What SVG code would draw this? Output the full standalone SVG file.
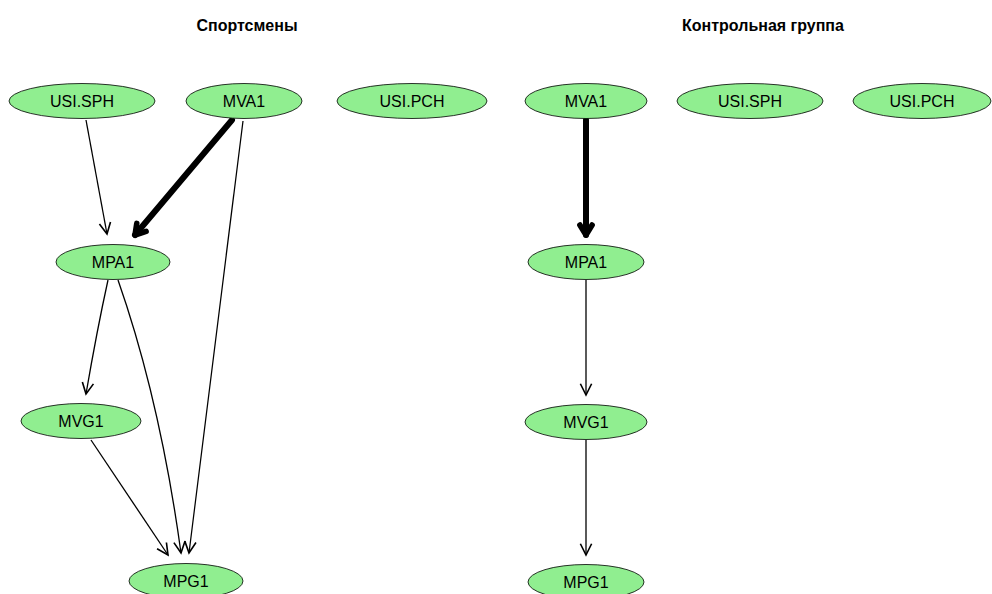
<svg xmlns="http://www.w3.org/2000/svg" width="992" height="594" viewBox="0 0 992 594">
<style>
.node ellipse{fill:#90EE90;stroke:#000;stroke-width:0.8}
.node text{font-family:"Liberation Sans",Arial,sans-serif;font-size:16px;text-anchor:middle;dominant-baseline:central;fill:#000}
.title{font-family:"Liberation Sans",Arial,sans-serif;font-size:16px;font-weight:bold;text-anchor:middle;fill:#000}
.e{fill:none;stroke:#000;stroke-width:1.3}
.t{fill:none;stroke:#000;stroke-width:6;stroke-linecap:round}
</style>
<defs>
<marker id="a" markerUnits="userSpaceOnUse" markerWidth="20" markerHeight="20" refX="0" refY="0" viewBox="-12 -8 14 16" orient="auto" overflow="visible">
<path d="M-9,-4.5 L0,0 L-9,4.5" fill="none" stroke="#000" stroke-width="1.3"/>
</marker>
<marker id="b" markerUnits="userSpaceOnUse" markerWidth="20" markerHeight="20" refX="0" refY="0" viewBox="-14 -9 16 18" orient="auto" overflow="visible">
<path d="M-9,-5.5 L0,0 L-9,5.5" fill="none" stroke="#000" stroke-width="5" stroke-linejoin="round" stroke-linecap="round"/>
</marker>
</defs>
<rect width="992" height="594" fill="#fff"/>
<text class="title" x="247" y="31">Спортсмены</text>
<text class="title" x="763" y="31">Контрольная группа</text>
<g id="connectors">
<path class="e" d="M86,120 L107,234" marker-end="url(#a)"/>
<path class="t" d="M232,120 L135,235" marker-end="url(#b)"/>
<path class="e" d="M243,121 L189,553" marker-end="url(#a)"/>
<path class="e" d="M108,280 Q97,330 86,394" marker-end="url(#a)"/>
<path class="e" d="M118,280 Q160,400 181,553" marker-end="url(#a)"/>
<path class="e" d="M91,440 L168,555" marker-end="url(#a)"/>
<path class="t" d="M586,120 L586,235" marker-end="url(#b)"/>
<path class="e" d="M586,280 L586,395" marker-end="url(#a)"/>
<path class="e" d="M586,440 L586,555" marker-end="url(#a)"/>
</g>
<g id="l_usisph" class="node"><ellipse cx="82" cy="101" rx="73" ry="17.5"/><text x="82" y="101">USI.SPH</text></g>
<g id="l_mva1" class="node"><ellipse cx="244" cy="101" rx="58" ry="17.5"/><text x="244" y="101">MVA1</text></g>
<g id="l_usipch" class="node"><ellipse cx="412" cy="101" rx="75" ry="17.5"/><text x="412" y="101">USI.PCH</text></g>
<g id="l_mpa1" class="node"><ellipse cx="113" cy="262" rx="57" ry="17.5"/><text x="113" y="262">MPA1</text></g>
<g id="l_mvg1" class="node"><ellipse cx="81" cy="421" rx="60" ry="17.5"/><text x="81" y="421">MVG1</text></g>
<g id="l_mpg1" class="node"><ellipse cx="186" cy="581" rx="57" ry="17.5"/><text x="186" y="581">MPG1</text></g>
<g id="r_mva1" class="node"><ellipse cx="586" cy="101" rx="61" ry="17.5"/><text x="586" y="101">MVA1</text></g>
<g id="r_usisph" class="node"><ellipse cx="750" cy="101" rx="73" ry="17.5"/><text x="750" y="101">USI.SPH</text></g>
<g id="r_usipch" class="node"><ellipse cx="922" cy="101" rx="69" ry="17.5"/><text x="922" y="101">USI.PCH</text></g>
<g id="r_mpa1" class="node"><ellipse cx="586" cy="262" rx="58" ry="17.5"/><text x="586" y="262">MPA1</text></g>
<g id="r_mvg1" class="node"><ellipse cx="586" cy="422" rx="61" ry="17.5"/><text x="586" y="422">MVG1</text></g>
<g id="r_mpg1" class="node"><ellipse cx="586" cy="582" rx="58" ry="17.5"/><text x="586" y="582">MPG1</text></g>
</svg>
